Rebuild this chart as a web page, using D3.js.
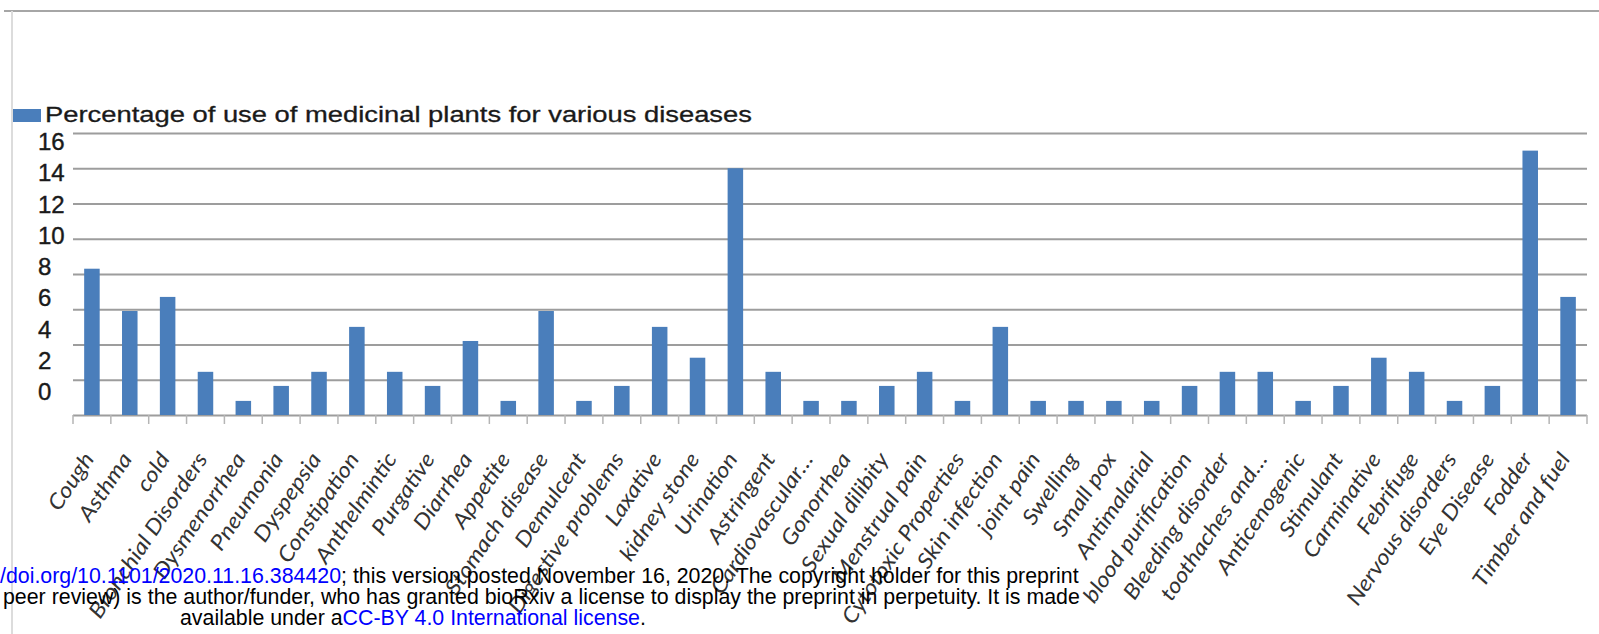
<!DOCTYPE html>
<html>
<head>
<meta charset="utf-8">
<script src="https://cdn.jsdelivr.net/npm/d3@7"></script>
<style>
  html, body { margin: 0; padding: 0; background: #ffffff; }
  svg { display: block; }
</style>
</head>
<body>
<svg id="chart" width="1599" height="634"></svg>
<script>
// ---- data ----
const categories = [
  "Cough", "Asthma", "cold", "Bronchial Disorders", "Dysmenorrhea", "Pneumonia",
  "Dyspepsia", "Constipation", "Anthelmintic", "Purgative", "Diarrhea", "Appetite",
  "Stomach disease", "Demulcent", "Digestive problems", "Laxative", "kidney stone",
  "Urination", "Astringent", "Cardiovascular…", "Gonorrhea", "Sexual dilibity",
  "Menstrual pain", "Cytotoxic Properties", "Skin infection", "joint pain", "Swelling",
  "Small pox", "Antimalarial", "blood purification", "Bleeding disorder",
  "toothaches and…", "Anticenogenic", "Stimulant", "Carminative", "Febrifuge",
  "Nervous disorders", "Eye Disease", "Fodder", "Timber and fuel"
];
const values = [
  8.3, 5.9, 6.7, 2.45, 0.8, 1.65,
  2.45, 5.0, 2.45, 1.65, 4.2, 0.8,
  5.9, 0.8, 1.65, 5.0, 3.25,
  14.0, 2.45, 0.8, 0.8, 1.65,
  2.45, 0.8, 5.0, 0.8, 0.8,
  0.8, 0.8, 1.65, 2.45,
  2.45, 0.8, 1.65, 3.25, 2.45,
  0.8, 1.65, 15.0, 6.7
];
const yTicks = [0, 2, 4, 6, 8, 10, 12, 14, 16];
const seriesName = "Percentage of use of medicinal plants for various diseases";
const footerLine1Link = "/doi.org/10.1101/2020.11.16.384420";
const footerLine1Rest = "; this version posted November 16, 2020. The copyright holder for this preprint";
const footerLine2 = "peer review) is the author/funder, who has granted bioRxiv a license to display the preprint in perpetuity. It is made";
const footerLine3a = "available under a";
const footerLine3b = "CC-BY 4.0 International license";
const footerLine3c = ".";

// ---- layout ----
const svg = d3.select("#chart");
const plotLeft = 73, plotRight = 1587, plotTop = 133, plotBottom = 415;
const barColor = "#4A7EBB";
const gridColor = "#8c8c8c";

// frame lines
svg.append("line").attr("x1", 4).attr("x2", 1599).attr("y1", 11).attr("y2", 11)
  .attr("stroke", "#a6a6a6").attr("stroke-width", 2);
svg.append("line").attr("x1", 12).attr("x2", 12).attr("y1", 11).attr("y2", 634)
  .attr("stroke", "#dcdcdc").attr("stroke-width", 2);

// scales
const x = d3.scaleBand().domain(categories).range([plotLeft, plotRight])
  .paddingInner(0.59).paddingOuter(0.295);
const y = d3.scaleLinear().domain([0, 16]).range([plotBottom, plotTop]);
// tick labels in the source image are drawn on a compressed, offset scale
const yLabel = d3.scaleLinear().domain([0, 16]).range([392, 142]);

// gridlines
const grid = svg.append("g").attr("transform", `translate(${plotLeft},0)`)
  .call(d3.axisLeft(y).tickValues(yTicks).tickSize(-(plotRight - plotLeft)).tickFormat(""));
grid.select(".domain").remove();
grid.selectAll(".tick line").attr("stroke", gridColor).attr("stroke-width", 2).attr("opacity", 0.85);

// y tick labels
const yAx = svg.append("g").attr("transform", "translate(38,0)")
  .call(d3.axisRight(yLabel).tickValues(yTicks).tickSize(0).tickPadding(0).tickFormat(d3.format("d")));
yAx.select(".domain").remove();
yAx.selectAll("text")
  .attr("font-family", "'Liberation Sans', Arial, sans-serif")
  .attr("font-size", 24)
  .attr("fill", "#1a1a1a")
  .attr("stroke", "#1a1a1a").attr("stroke-width", 0.4);

// x axis ticks (category boundaries)
const step = x.step();
const boundaries = categories.map(c => x(c) + x.bandwidth() / 2 - step / 2)
  .concat([x(categories[categories.length - 1]) + x.bandwidth() / 2 + step / 2]);
svg.append("g").selectAll("line").data(boundaries).join("line")
  .attr("x1", d => d).attr("x2", d => d)
  .attr("y1", plotBottom).attr("y2", plotBottom + 9)
  .attr("stroke", "#b5b5b5").attr("stroke-width", 1.5);

// bars
svg.append("g").selectAll("rect").data(values).join("rect")
  .attr("x", (d, i) => x(categories[i]))
  .attr("y", d => y(d))
  .attr("width", x.bandwidth())
  .attr("height", d => y(0) - y(d))
  .attr("fill", barColor);

// x labels
svg.append("g").selectAll("text").data(categories).join("text")
  .attr("transform", d => `translate(${x(d) + x.bandwidth() / 2 + 3},459) rotate(-56) scale(1.12,1)`)
  .attr("text-anchor", "end")
  .attr("font-family", "Lato, 'Open Sans', sans-serif")
  .attr("font-style", "italic")
  .attr("font-size", 21.5)
  .attr("fill", "#333333")
  .text(d => d);

// legend
svg.append("rect").attr("x", 13).attr("y", 109).attr("width", 28).attr("height", 13).attr("fill", barColor);
svg.append("text")
  .attr("transform", "translate(45,122) scale(1.25,1)")
  .attr("font-family", "'Liberation Sans', Arial, sans-serif")
  .attr("font-size", 21.9)
  .attr("fill", "#1a1a1a")
  .attr("stroke", "#1a1a1a").attr("stroke-width", 0.3)
  .text(seriesName);

// footer (bioRxiv watermark)
const ff = "'Liberation Sans', Arial, sans-serif";
const fs = 21.35;
const t1 = svg.append("text").attr("x", 0).attr("y", 583)
  .attr("font-family", ff).attr("font-size", fs);
t1.append("tspan").attr("fill", "#0000ff").text(footerLine1Link);
t1.append("tspan").attr("fill", "#000").text(footerLine1Rest);
svg.append("text").attr("x", 3).attr("y", 604)
  .attr("font-family", ff).attr("font-size", fs).attr("fill", "#000").text(footerLine2);
const t3 = svg.append("text").attr("x", 180).attr("y", 625)
  .attr("font-family", ff).attr("font-size", fs);
t3.append("tspan").attr("fill", "#000").text(footerLine3a);
t3.append("tspan").attr("fill", "#0000ff").text(footerLine3b);
t3.append("tspan").attr("fill", "#000").text(footerLine3c);
</script>
</body>
</html>
